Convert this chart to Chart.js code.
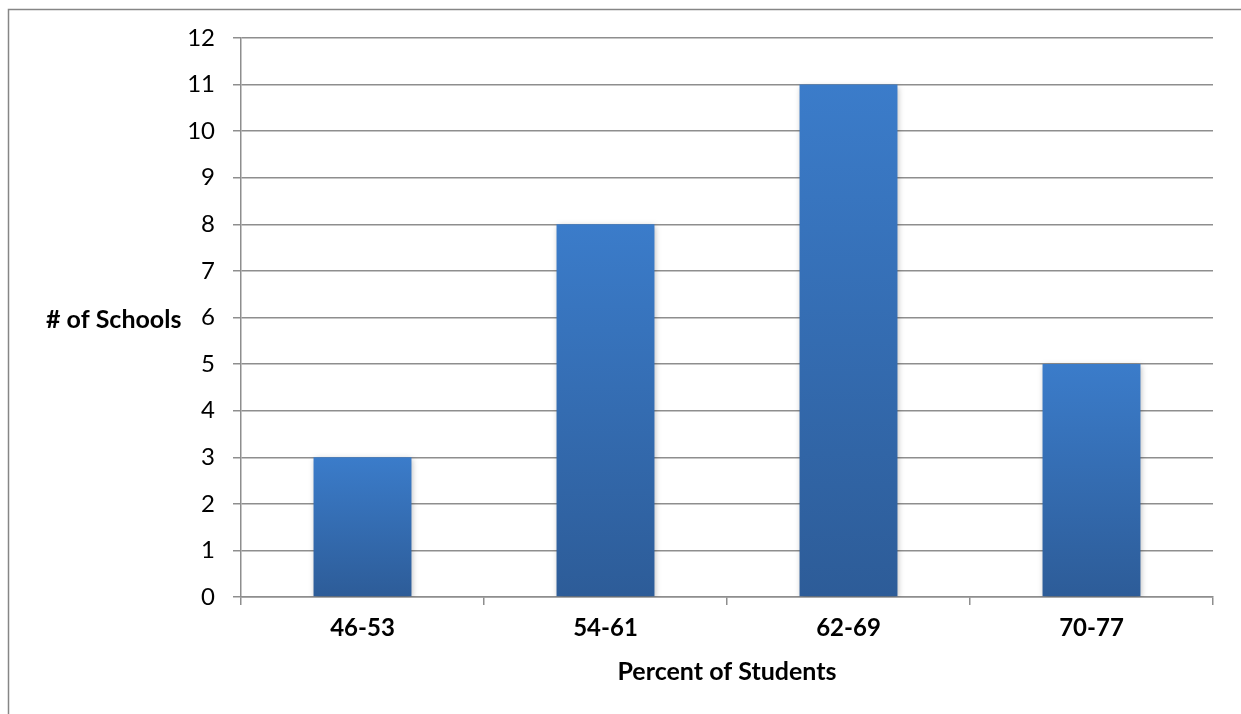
<!DOCTYPE html>
<html>
<head>
<meta charset="utf-8">
<script src="https://cdn.jsdelivr.net/npm/chart.js@4"></script>
<style>
  html, body { margin: 0; padding: 0; background: #fff; }
  #wrap { width: 1241px; height: 714px; position: relative; }
</style>
</head>
<body>
<div id="wrap"><canvas id="chart" width="1241" height="714"></canvas></div>
<script>
// Data
const categories = ['46-53', '54-61', '62-69', '70-77'];
const schoolCounts = [3, 8, 11, 5];
const yTicks = [0, 1, 2, 3, 4, 5, 6, 7, 8, 9, 10, 11, 12];

const yTitle = '# of Schools';
const xTitle = 'Percent of Students';

const FONT = 'Lato, "Open Sans", sans-serif';
const GRID = '#8e8e8e';

// gradient per bar, light on top, dark at bottom
function barFill(ctx) {
    const chart = ctx.chart;
    const ys = chart.scales && chart.scales.y;
    if (!ys || ctx.raw === undefined) return '#3469b4';
    const top = ys.getPixelForValue(ctx.raw);
    const base = ys.getPixelForValue(0);
    if (!isFinite(top) || !isFinite(base) || top === base) return '#3469b4';
    const g = chart.ctx.createLinearGradient(0, top, 0, base);
    g.addColorStop(0, '#3b7cca');
    g.addColorStop(1, '#2d5c98');
    return g;
}

// frame + axis titles drawn by hand (titles are horizontal in the original)
const extras = {
    id: 'extras',
    beforeDraw(chart) {
        const c = chart.ctx;
        c.save();
        c.strokeStyle = '#868686';
        c.lineWidth = 1.5;
        c.beginPath();
        c.moveTo(8.5, 720);
        c.lineTo(8.5, 9.5);
        c.lineTo(1250, 9.5);
        c.stroke();
        c.restore();
    },
    afterDraw(chart) {
        const c = chart.ctx;
        c.save();
        c.fillStyle = '#000';
        c.font = 'bold 25px ' + FONT;
        c.textBaseline = 'middle';
        c.textAlign = 'left';
        c.fillText(yTitle, 46, 320);
        c.textAlign = 'center';
        c.fillText(xTitle, 727, 672);
        c.restore();
    },
    beforeDatasetDraw(chart) {
        const c = chart.ctx;
        c.save();
        c.shadowColor = 'rgba(0,0,0,0.28)';
        c.shadowBlur = 6;
        c.shadowOffsetX = 1;
        c.shadowOffsetY = 2;
    },
    afterDatasetDraw(chart) {
        chart.ctx.restore();
    }
};

new Chart(document.getElementById('chart'), {
    type: 'bar',
    data: {
        labels: categories,
        datasets: [{
            label: yTitle,
            data: schoolCounts,
            backgroundColor: barFill,
            borderWidth: 0,
            categoryPercentage: 1,
            barPercentage: 0.403
        }]
    },
    options: {
        responsive: false,
        animation: false,
        devicePixelRatio: 1,
        layout: { padding: { top: 38, right: 28, bottom: 0, left: 0 } },
        plugins: {
            legend: { display: false },
            tooltip: { enabled: false }
        },
        scales: {
            x: {
                grid: { drawOnChartArea: false, drawTicks: true, tickLength: 8, color: GRID, lineWidth: 1.5 },
                border: { color: GRID, width: 1.5 },
                ticks: { color: '#000', font: { family: FONT, size: 24, weight: 'bold' }, padding: 9 },
                afterFit(scale) { scale.height = 117; }
            },
            y: {
                min: 0,
                max: 12,
                afterBuildTicks(scale) { scale.ticks = yTicks.map(v => ({ value: v })); },
                grid: { color: GRID, lineWidth: 1.5, tickLength: 8 },
                border: { color: GRID, width: 1.5 },
                ticks: { color: '#000', font: { family: FONT, size: 24 }, padding: 18 },
                afterFit(scale) { scale.width = 241; }
            }
        }
    },
    plugins: [extras]
});
</script>
</body>
</html>
